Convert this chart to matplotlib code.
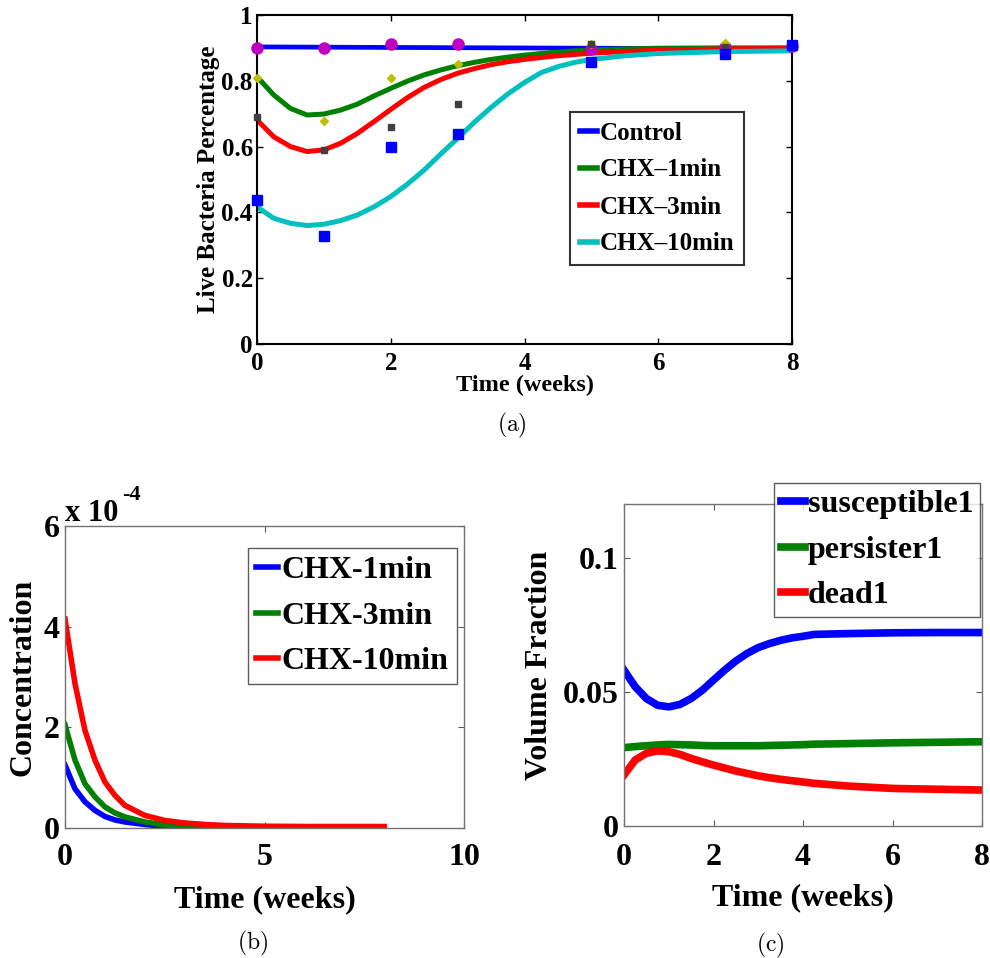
import matplotlib
matplotlib.use("Agg")
import matplotlib.pyplot as plt

plt.rcParams['font.family'] = ['Liberation Serif', 'DejaVu Serif']
plt.rcParams['font.weight'] = 'bold'
plt.rcParams['mathtext.fontset'] = 'cm'

# ---------------- (a) data ----------------
t_fit = [0, 0.25, 0.5, 0.75, 1, 1.25, 1.5, 1.75, 2, 2.25, 2.5, 2.75, 3, 3.25, 3.5, 3.75, 4, 4.25,
         4.5, 4.75, 5, 5.5, 6, 7, 8]
control_fit = [0.903, 0.9028, 0.9026, 0.9024, 0.9022, 0.902, 0.9018, 0.9016, 0.9014, 0.9012, 0.901, 0.9008,
               0.9006, 0.9004, 0.9002, 0.900, 0.8998, 0.8996, 0.8994, 0.8992, 0.899, 0.8987, 0.8985, 0.898, 0.898]
chx1_fit = [0.8125, 0.757, 0.716, 0.696, 0.699, 0.711, 0.729, 0.754, 0.777, 0.799, 0.818, 0.833, 0.846,
            0.856, 0.865, 0.872, 0.878, 0.883, 0.887, 0.891, 0.894, 0.897, 0.899, 0.900, 0.900]
chx3_fit = [0.681, 0.630, 0.600, 0.585, 0.590, 0.610, 0.640, 0.676, 0.713, 0.749, 0.780, 0.804, 0.823,
            0.837, 0.849, 0.858, 0.865, 0.871, 0.876, 0.880, 0.884, 0.889, 0.893, 0.897, 0.899]
chx10_fit = [0.417, 0.382, 0.367, 0.360, 0.364, 0.375, 0.392, 0.417, 0.448, 0.486, 0.529, 0.578, 0.625,
             0.674, 0.719, 0.760, 0.795, 0.825, 0.843, 0.856, 0.865, 0.876, 0.883, 0.889, 0.891]

t_control_obs = [0, 1, 2, 3, 5, 7, 8]
control_obs = [0.899, 0.899, 0.911, 0.911, 0.897, 0.904, 0.905]
t_chx1_obs = [0, 1, 2, 3, 5, 7]
chx1_obs = [0.81, 0.679, 0.81, 0.85, 0.911, 0.916]
t_chx3_obs = [0, 1, 2, 3, 5, 7]
chx3_obs = [0.689, 0.59, 0.659, 0.729, 0.911, 0.902]
t_chx10_obs = [0, 1, 2, 3, 5, 7, 8]
chx10_obs = [0.438, 0.328, 0.598, 0.638, 0.858, 0.880, 0.909]

# ---------------- (b) data ----------------
t_conc = [0, 0.25, 0.5, 0.75, 1, 1.25, 1.5, 2, 2.5, 3, 3.5, 4, 5, 6, 8]
conc_1min = [1.25e-4, 0.78e-4, 0.52e-4, 0.35e-4, 0.23e-4, 0.16e-4, 0.12e-4, 0.07e-4, 0.03e-4, 0.015e-4,
             0.008e-4, 0.004e-4, 0.001e-4, 0, 0]
conc_3min = [2.05e-4, 1.35e-4, 0.88e-4, 0.62e-4, 0.42e-4, 0.30e-4, 0.22e-4, 0.12e-4, 0.06e-4, 0.035e-4,
             0.02e-4, 0.01e-4, 0.004e-4, 0.002e-4, 0]
conc_10min = [4.15e-4, 2.87e-4, 1.94e-4, 1.35e-4, 0.915e-4, 0.65e-4, 0.45e-4, 0.25e-4, 0.15e-4, 0.10e-4,
              0.07e-4, 0.05e-4, 0.035e-4, 0.03e-4, 0.03e-4]

# ---------------- (c) data ----------------
t_vol = [0, 0.25, 0.5, 0.75, 1, 1.25, 1.5, 1.75, 2, 2.25, 2.5, 2.75, 3, 3.25, 3.5, 3.75, 4, 4.25,
         5, 6, 7, 8]
susceptible1 = [0.0581, 0.0519, 0.0475, 0.0450, 0.0444, 0.0453, 0.0475, 0.0506, 0.0544, 0.0581, 0.0615,
                0.0643, 0.0665, 0.0680, 0.0692, 0.0701, 0.0707, 0.0714, 0.0717, 0.0720, 0.0721, 0.0721]
persister1 = [0.0292, 0.0296, 0.0299, 0.0302, 0.0304, 0.0303, 0.0302, 0.0300, 0.0299, 0.0299, 0.0299,
              0.0299, 0.0299, 0.0300, 0.0301, 0.0302, 0.0303, 0.0305, 0.0307, 0.0310, 0.0312, 0.0314]
dead1 = [0.0190, 0.0246, 0.0271, 0.0280, 0.0277, 0.0267, 0.0252, 0.0239, 0.0227, 0.0216, 0.0205, 0.0196,
         0.0187, 0.0180, 0.0174, 0.0169, 0.0164, 0.0159, 0.0149, 0.0140, 0.0137, 0.0134]

BLUE = (0, 0, 1)
GREEN = (0, 0.5, 0)
RED = (1, 0, 0)
CYAN = (0, 0.75, 0.75)
MAGENTA = (0.75, 0, 0.75)
OLIVE = (0.75, 0.75, 0)
DGRAY = (0.25, 0.25, 0.25)

fig = plt.figure(figsize=(9.9, 9.58), dpi=100)

# ---------------- panel (a) ----------------
axa = fig.add_axes([257/990, 1-344/958, 535/990, 329/958])
axa.plot(t_fit, control_fit, color=BLUE, lw=3.4, label='Control', zorder=2)
axa.plot(t_fit, chx1_fit, color=GREEN, lw=3.6, label='CHX\u20131min', zorder=2)
axa.plot(t_fit, chx3_fit, color=RED, lw=3.6, label='CHX\u20133min', zorder=2)
axa.plot(t_fit, chx10_fit, color=CYAN, lw=3.6, label='CHX\u201310min', zorder=2)
axa.plot(t_control_obs, control_obs, 'o', color=MAGENTA, ms=8, zorder=3, clip_on=False)
axa.plot(t_chx1_obs, chx1_obs, 'D', color=OLIVE, ms=4.5, zorder=4, clip_on=False)
axa.plot(t_chx3_obs, chx3_obs, 's', color=DGRAY, ms=4, zorder=5, clip_on=False)
axa.plot(t_chx10_obs, chx10_obs, 's', color=BLUE, ms=7.5, zorder=6, clip_on=False)
axa.set_xlim(0, 8)
axa.set_ylim(0, 1)
axa.set_xticks([0, 2, 4, 6, 8])
axa.set_yticks([0, 0.2, 0.4, 0.6, 0.8, 1])
axa.set_yticklabels(['0', '0.2', '0.4', '0.6', '0.8', '1'])
axa.tick_params(direction='in', top=True, right=True, labelsize=18, length=4, width=1)
axa.tick_params(axis='x', pad=6)
axa.tick_params(axis='y', pad=3)
axa.set_xlabel('Time (weeks)', fontsize=17.5, fontweight='bold', labelpad=0)
axa.set_ylabel('Live Bacteria Percentage', fontsize=18, fontweight='bold', labelpad=1)
for s in axa.spines.values():
    s.set_linewidth(1.5)
    s.set_color('black')
leg = axa.legend(loc='upper left', bbox_to_anchor=(570/990, 1-112/958), bbox_transform=fig.transFigure,
                 fontsize=18, handlelength=0.7, handletextpad=0.1, labelspacing=0.56,
                 borderpad=0.38, borderaxespad=0, fancybox=False, frameon=True)
leg.get_frame().set_edgecolor('black')
leg.get_frame().set_linewidth(1.5)
for h in leg.get_lines():
    h.set_linewidth(4)
fig.text(512/990, 1-425/958, r'$\mathrm{(a)}$', ha='center', va='center', fontsize=17)

# ---------------- panel (b) ----------------
axb = fig.add_axes([65/990, 1-828/958, 399/990, 302/958])
axb.plot(t_conc, conc_1min, color=BLUE, lw=4, label='CHX-1min')
axb.plot(t_conc, conc_3min, color=GREEN, lw=4, label='CHX-3min')
axb.plot(t_conc, conc_10min, color=RED, lw=4, label='CHX-10min')
axb.set_xlim(0, 10)
axb.set_ylim(0, 6e-4)
axb.set_xticks([0, 5, 10])
axb.set_yticks([0, 2e-4, 4e-4, 6e-4])
axb.set_yticklabels(['0', '2', '4', '6'])
axb.tick_params(direction='in', top=True, right=True, labelsize=23, length=4, width=0.8, color='0.35')
axb.tick_params(axis='x', pad=11)
axb.tick_params(axis='y', pad=4)
axb.set_xlabel('Time (weeks)', fontsize=23, fontweight='bold', labelpad=9)
axb.set_ylabel('Concentration', fontsize=23, fontweight='bold', labelpad=4)
for s in axb.spines.values():
    s.set_linewidth(1)
    s.set_color('0.45')
axb.text(0, 1.04, 'x 10', transform=axb.transAxes, fontsize=22, fontweight='bold', ha='left', va='center')
axb.text(0.143, 1.103, '-4', transform=axb.transAxes, fontsize=16, fontweight='bold', ha='left', va='center')
legb = axb.legend(loc='upper left', bbox_to_anchor=(247.7/990, 1-548/958), bbox_transform=fig.transFigure,
                  fontsize=23, handlelength=0.7, handletextpad=0.12, labelspacing=0.5,
                  borderpad=0.25, borderaxespad=0, fancybox=False, frameon=True)
legb.get_frame().set_edgecolor('0.2')
legb.get_frame().set_linewidth(1)
fig.text(253/990, 1-943/958, r'$\mathrm{(b)}$', ha='center', va='center', fontsize=17)

# ---------------- panel (c) ----------------
axc = fig.add_axes([624/990, 1-826/958, 358/990, 322/958])
axc.plot(t_vol, susceptible1, color=BLUE, lw=5.5, label='susceptible1')
axc.plot(t_vol, persister1, color=GREEN, lw=5.5, label='persister1')
axc.plot(t_vol, dead1, color=RED, lw=5.5, label='dead1')
axc.set_xlim(0, 8)
axc.set_ylim(0, 0.12)
axc.set_xticks([0, 2, 4, 6, 8])
axc.set_yticks([0, 0.05, 0.1])
axc.set_yticklabels(['0', '0.05', '0.1'])
axc.tick_params(direction='in', top=True, right=True, labelsize=23, length=4, width=0.8, color='0.35')
axc.tick_params(axis='x', pad=12)
axc.tick_params(axis='y', pad=4)
axc.set_xlabel('Time (weeks)', fontsize=23, fontweight='bold', labelpad=8)
axc.set_ylabel('Volume Fraction', fontsize=23, fontweight='bold', labelpad=6)
for s in axc.spines.values():
    s.set_linewidth(1)
    s.set_color('0.45')
legc = axc.legend(loc='upper left', bbox_to_anchor=(773.7/990, 1-483/958), bbox_transform=fig.transFigure,
                  fontsize=23, handlelength=0.75, handletextpad=0.1, labelspacing=0.5,
                  borderpad=0.22, borderaxespad=0, fancybox=False, frameon=True)
legc.get_frame().set_edgecolor('0.2')
legc.get_frame().set_linewidth(1)
fig.text(770/990, 1-945/958, r'$\mathrm{(c)}$', ha='center', va='center', fontsize=17)

fig.savefig('out.png', dpi=100)
